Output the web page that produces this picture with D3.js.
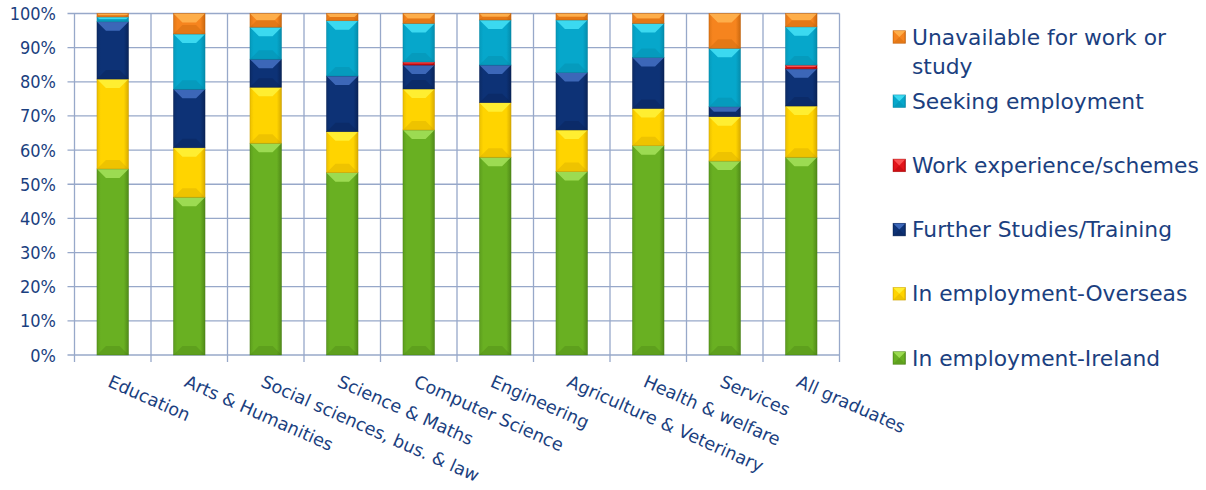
<!DOCTYPE html>
<html>
<head>
<meta charset="utf-8">
<script src="https://cdn.jsdelivr.net/npm/d3@7"></script>
<style>
  body { margin: 0; background: #fff; }
  svg text { font-family: "DejaVu Sans", Verdana, sans-serif; fill: #1B3F80; }
</style>
</head>
<body>
<div id="content"></div>
<script>
// categories along the x axis
const categories = ["Education", "Arts & Humanities", "Social sciences, bus. & law", "Science & Maths",
  "Computer Science", "Engineering", "Agriculture & Veterinary", "Health & welfare", "Services", "All graduates"];

// series values, % of graduates
const inIreland   = [54.5, 46.2, 62.0, 53.4, 65.9, 57.9, 53.7, 61.3, 56.8, 57.9];
const inOverseas  = [26.3, 14.5, 16.4, 12.0, 12.0, 16.0, 12.2, 10.9, 13.0, 15.0];
const furtherStud = [16.8, 17.1, 8.2, 16.3, 7.0, 11.0, 16.8, 14.9, 2.9, 10.9];
const workExp     = [0, 0, 0, 0, 0.9, 0, 0, 0, 0, 1.1];
const seeking     = [1.4, 16.2, 9.4, 16.2, 11.3, 13.2, 15.4, 10.0, 17.1, 11.2];
const unavailable = [1.0, 6.0, 4.0, 2.1, 2.9, 1.9, 1.9, 2.9, 10.2, 3.9];

const yTicks = [0, 10, 20, 30, 40, 50, 60, 70, 80, 90, 100];

// bottom to top stacking order
const series = [
  { key: "ireland", name: "In employment-Ireland", values: inIreland, base: "#69B022", light: "#A6E35A", dark: "#457A14" },
  { key: "overseas", name: "In employment-Overseas", values: inOverseas, base: "#FFD400", light: "#FFF23A", dark: "#C79A00" },
  { key: "further", name: "Further Studies/Training", values: furtherStud, base: "#0D3276", light: "#4571C4", dark: "#071E4C" },
  { key: "work", name: "Work experience/schemes", values: workExp, base: "#E3141A", light: "#FF5A5A", dark: "#9A0000" },
  { key: "seeking", name: "Seeking employment", values: seeking, base: "#06A7CB", light: "#45E2F7", dark: "#04819F" },
  { key: "unavail", name: ["Unavailable for work or", "study"], values: unavailable, base: "#F6841E", light: "#FFB552", dark: "#B85C08" }
];

const rows = categories.map((c, i) => {
  let r = { cat: c };
  series.forEach(s => { r[s.key] = s.values[i]; });
  return r;
});

const W = 1206, H = 490;
const plot = { left: 74.5, right: 839.5, top: 13.5, bottom: 355 };

let svg = d3.select("#content").append("svg").attr("width", W).attr("height", H);
let defs = svg.append("defs");

// side shading gradient per series
series.forEach(s => {
  let g = defs.append("linearGradient").attr("id", "grad-" + s.key)
    .attr("x1", "0%").attr("x2", "100%").attr("y1", "0%").attr("y2", "0%");
  g.append("stop").attr("offset", "0%").attr("stop-color", d3.interpolateRgb(s.base, s.dark)(0.35));
  g.append("stop").attr("offset", "12%").attr("stop-color", s.base);
  g.append("stop").attr("offset", "85%").attr("stop-color", s.base);
  g.append("stop").attr("offset", "100%").attr("stop-color", d3.interpolateRgb(s.base, s.dark)(0.7));
});

let x = d3.scaleBand().domain(categories).range([plot.left, plot.right]).padding(0);
let y = d3.scaleLinear().domain([0, 100]).range([plot.bottom, plot.top]);
const barW = x.bandwidth() * 0.413;

const gridColor = "#97A8C9";

// horizontal grid
svg.append("g").selectAll("line").data(yTicks).enter().append("line")
  .attr("x1", plot.left - 7).attr("x2", plot.right)
  .attr("y1", d => y(d)).attr("y2", d => y(d))
  .attr("stroke", gridColor).attr("stroke-width", 1.3);

// vertical grid at category boundaries
let bounds = categories.map(c => x(c)).concat([plot.right]);
svg.append("g").selectAll("line").data(bounds).enter().append("line")
  .attr("x1", d => d).attr("x2", d => d)
  .attr("y1", plot.top).attr("y2", plot.bottom + 7)
  .attr("stroke", gridColor).attr("stroke-width", 1.3);

// y tick labels (narrower digits than DejaVu, so squeeze a bit)
svg.append("g").selectAll("text").data(yTicks).enter().append("text")
  .attr("transform", d => "translate(56," + (y(d) + 6.5) + ") scale(0.9,1)")
  .attr("text-anchor", "end")
  .style("font-size", "18px")
  .text(d => d + "%");

// stacked bars
let stack = d3.stack().keys(series.map(s => s.key));
let stacked = stack(rows);

function drawSegment(g, s, x0, y0, w, h) {
  if (h <= 0.05) return;
  let b = Math.min(9, h / 2, w / 2);
  g.append("rect").attr("x", x0).attr("y", y0).attr("width", w).attr("height", h)
    .attr("fill", "url(#grad-" + s.key + ")");
  // top bevel
  g.append("polygon")
    .attr("points", [[x0, y0], [x0 + w, y0], [x0 + w - b, y0 + b], [x0 + b, y0 + b]].map(p => p.join(",")).join(" "))
    .attr("fill", s.light).attr("opacity", 0.85);
  // bottom bevel
  g.append("polygon")
    .attr("points", [[x0, y0 + h], [x0 + w, y0 + h], [x0 + w - b, y0 + h - b], [x0 + b, y0 + h - b]].map(p => p.join(",")).join(" "))
    .attr("fill", s.dark).attr("opacity", 0.3);
  g.append("rect").attr("x", x0).attr("y", y0).attr("width", w).attr("height", h)
    .attr("fill", "none").attr("stroke", s.dark).attr("stroke-opacity", 0.6).attr("stroke-width", 0.7);
}

let barsG = svg.append("g");
stacked.forEach((layer, li) => {
  let s = series[li];
  layer.forEach(d => {
    let cx = x(d.data.cat) + x.bandwidth() / 2;
    let yTop = y(d[1]), yBot = y(d[0]);
    drawSegment(barsG, s, cx - barW / 2, yTop, barW, yBot - yTop);
  });
});

// x labels, rotated
svg.append("g").selectAll("text").data(categories).enter().append("text")
  .attr("transform", d => "translate(" + (x(d) + x.bandwidth() / 2 - 6) + ",386) rotate(24)")
  .style("font-size", "17.6px")
  .text(d => d);

// legend, top to bottom
let legendOrder = series.slice().reverse();
const legX = 893, legText = 912, legY0 = 37, legStep = 64.2;
legendOrder.forEach((s, i) => {
  let cy = legY0 + i * legStep;
  let g = svg.append("g");
  drawSegment(g, s, legX, cy - 6.3, 12.6, 12.6);
  let names = Array.isArray(s.name) ? s.name : [s.name];
  names.forEach((n, j) => {
    g.append("text").attr("x", legText).attr("y", cy + 7.5 + j * 29)
      .style("font-size", "21.8px")
      .text(n);
  });
});
</script>
</body>
</html>
